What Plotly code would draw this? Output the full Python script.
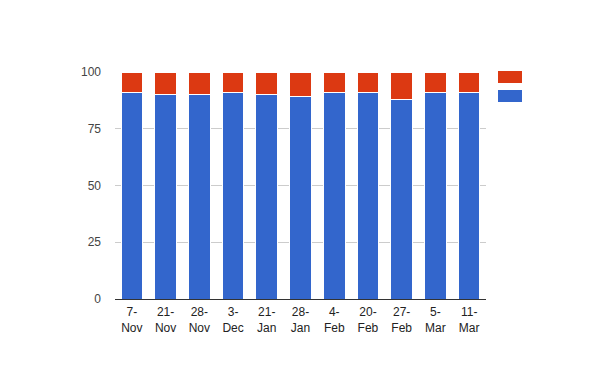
import plotly.graph_objects as go

categories = ["7-<br>Nov", "21-<br>Nov", "28-<br>Nov", "3-<br>Dec", "21-<br>Jan", "28-<br>Jan",
              "4-<br>Feb", "20-<br>Feb", "27-<br>Feb", "5-<br>Mar", "11-<br>Mar"]
blue_values = [91, 90, 90, 91, 90, 89, 91, 91, 88, 91, 91]
red_values = [9, 10, 10, 9, 10, 11, 9, 9, 12, 9, 9]
y_ticks = [0, 25, 50, 75, 100]

BLUE = "#3366cc"
RED = "#dc3912"

fig = go.Figure()
fig.add_trace(go.Bar(x=categories, y=blue_values, marker=dict(color=BLUE, line=dict(color="white", width=1)),
                     showlegend=False))
fig.add_trace(go.Bar(x=categories, y=red_values, marker=dict(color=RED, line=dict(color="white", width=1)),
                     showlegend=False))

W, H = 600, 371
OFF = 8  # page offset of the figure in the browser
ml, mr, mt, mb = 115 - OFF, 114 + OFF, 72 - OFF, 72 + OFF
pw = W - ml - mr
ph = H - mt - mb

def px_to_paper_x(px):
    return (px - OFF - ml) / pw

def px_to_paper_y(py):
    return (H - mb - (py - OFF)) / ph

shapes = []
for (y0, y1, col) in [(71, 83, RED), (90, 102, BLUE)]:
    shapes.append(dict(type="rect", xref="paper", yref="paper",
                       x0=px_to_paper_x(498), x1=px_to_paper_x(522),
                       y0=px_to_paper_y(y1), y1=px_to_paper_y(y0),
                       fillcolor=col, line=dict(width=0)))

fig.update_layout(
    barmode="stack",
    bargap=0.36,
    width=W, height=H,
    margin=dict(l=ml, r=mr, t=mt, b=mb),
    plot_bgcolor="white", paper_bgcolor="white",
    font=dict(family="Liberation Sans, Arial, sans-serif", size=12, color="#222222"),
    shapes=shapes,
    xaxis=dict(showgrid=False, showline=True, linecolor="#333333", linewidth=1,
               ticks="", ticklabelstandoff=2, tickfont=dict(size=12, color="#222222"), fixedrange=True),
    yaxis=dict(range=[0, 100], tickvals=y_ticks, showgrid=True, gridcolor="#cccccc",
               zeroline=False, showline=False, ticks="", ticklabelstandoff=13,
               tickfont=dict(size=12, color="#444444")),
)

fig.write_html("out.html")
